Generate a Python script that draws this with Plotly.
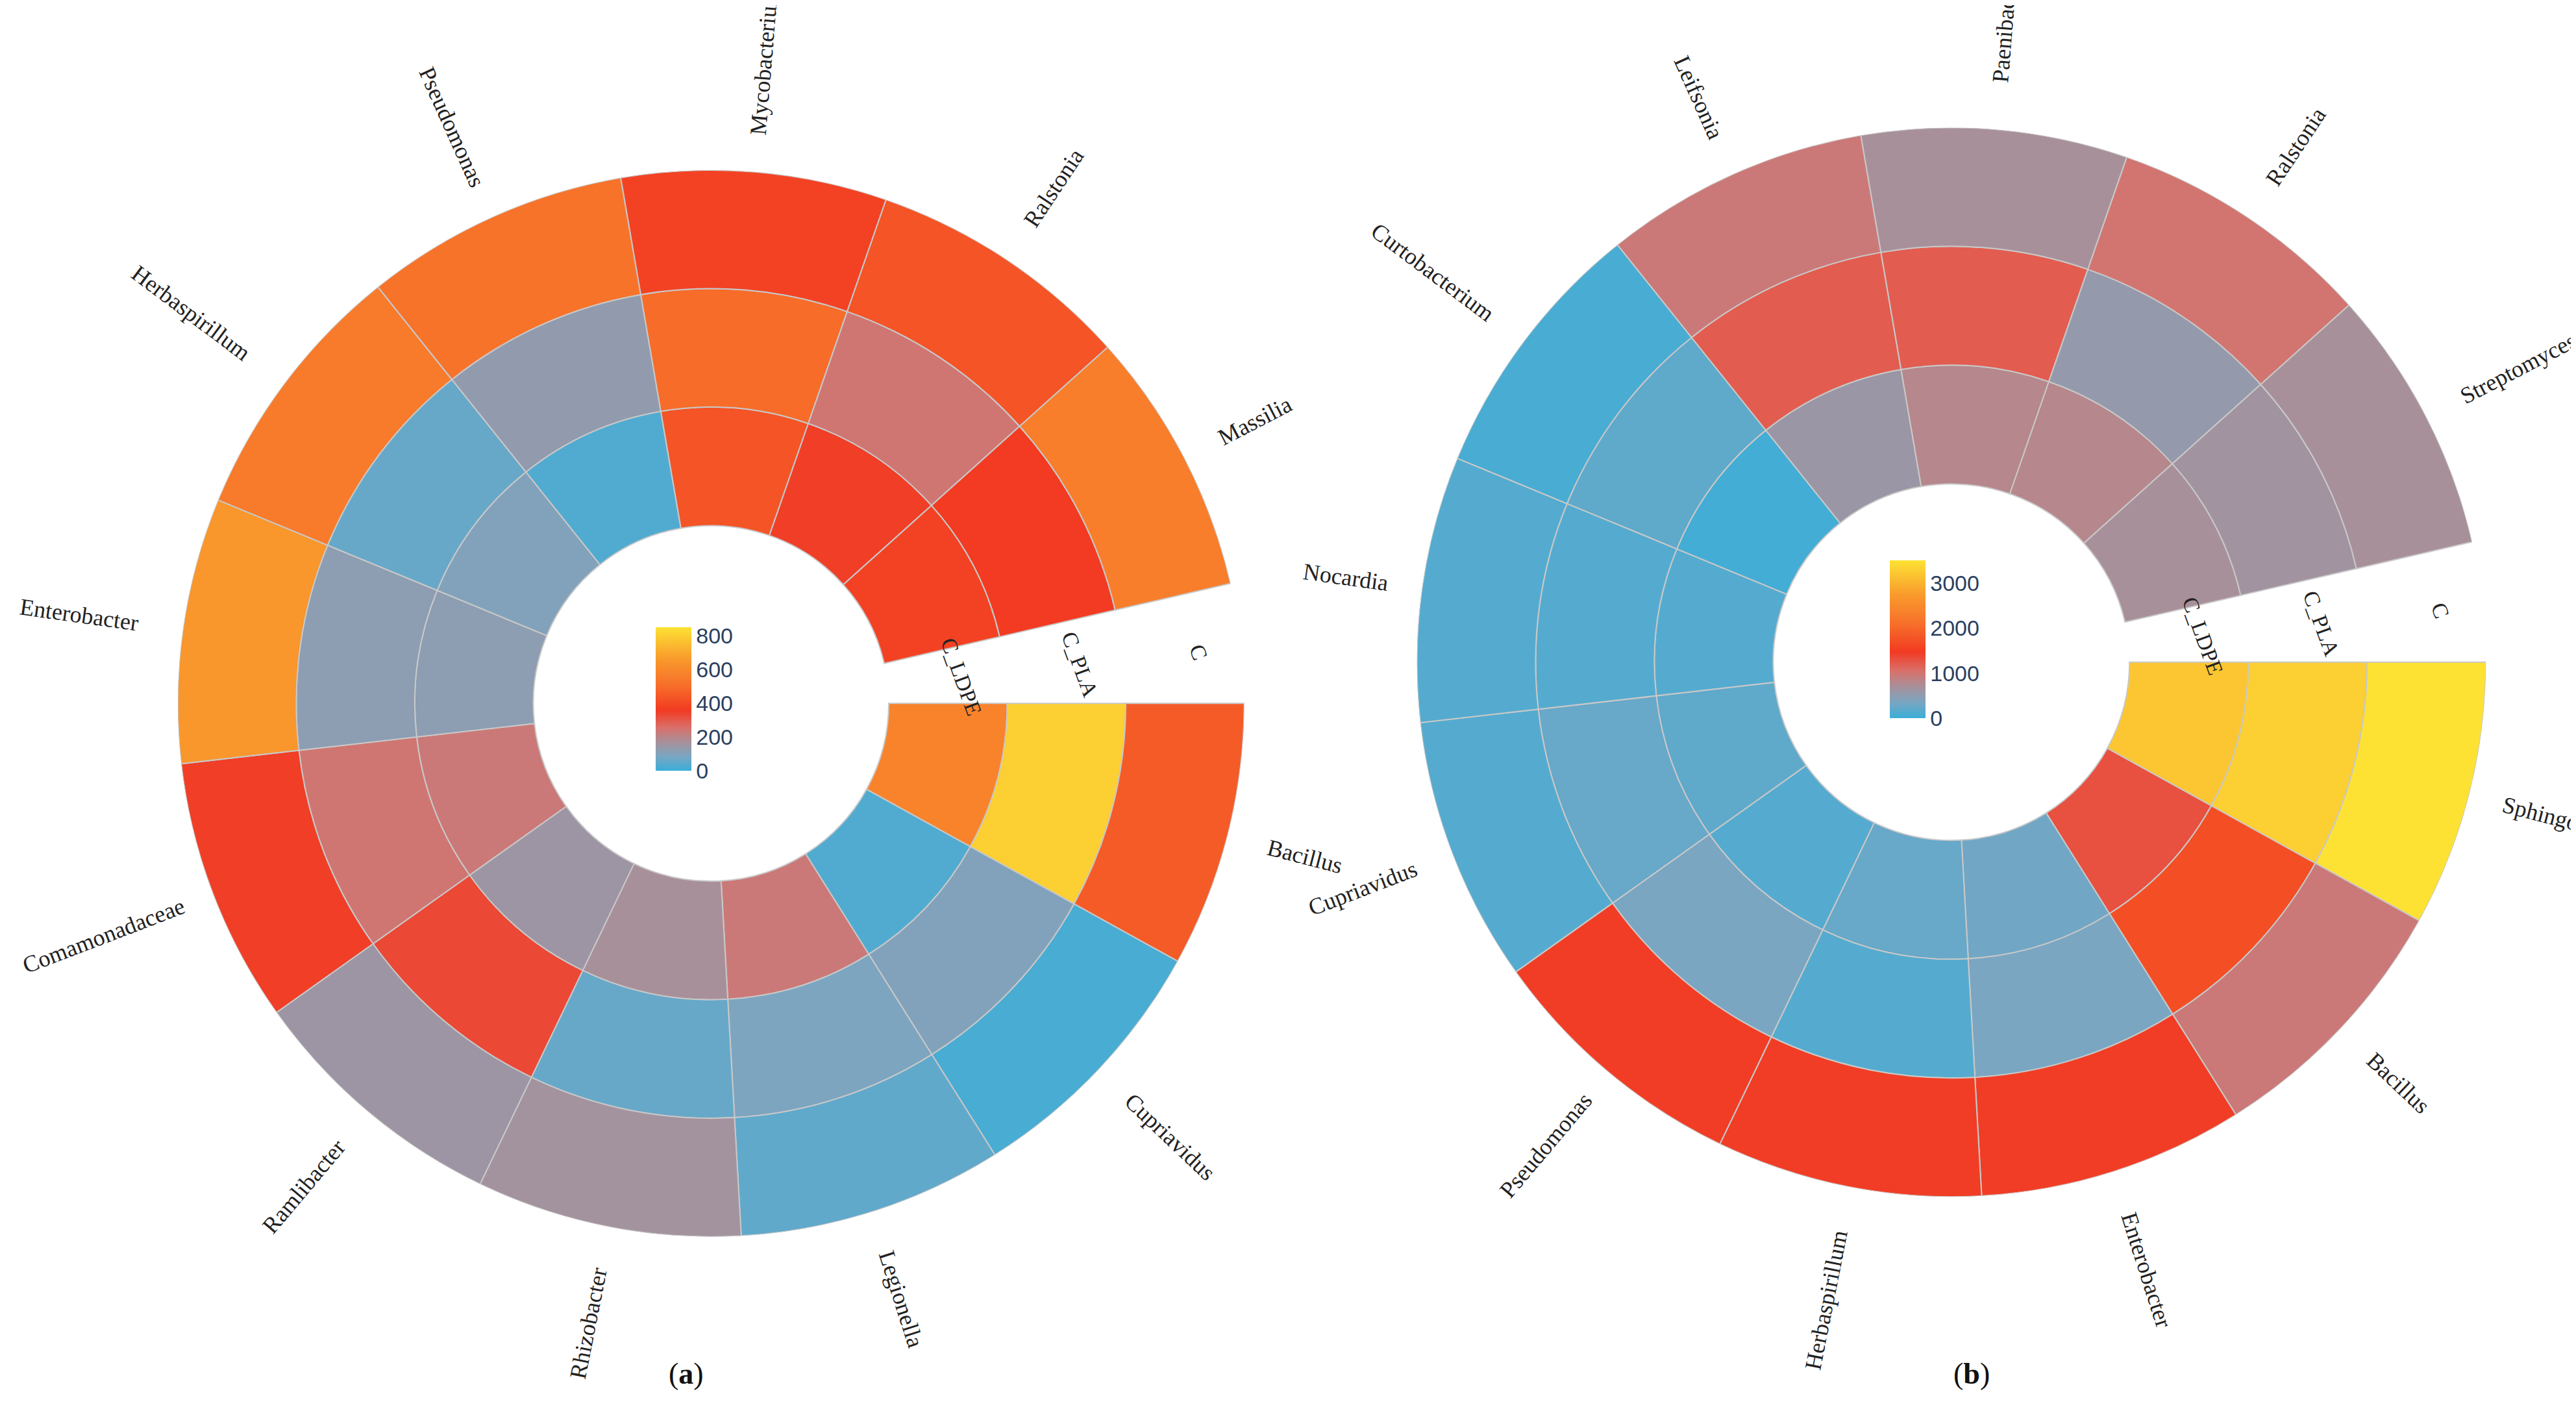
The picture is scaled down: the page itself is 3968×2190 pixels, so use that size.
import plotly.graph_objects as go
import math

W, H = 3968, 2190

genera_a = ["Bacillus", "Cupriavidus", "Legionella", "Rhizobacter", "Ramlibacter", "Comamonadaceae",
            "Enterobacter", "Herbaspirillum", "Pseudomonas", "Mycobacterium", "Ralstonia", "Massilia"]
a_ldpe = [580, 30, 230, 170, 150, 230, 120, 100, 30, 430, 350, 380]
a_pla = [800, 100, 90, 60, 330, 240, 120, 60, 130, 500, 240, 360]
a_c = [450, 20, 50, 160, 150, 350, 650, 550, 520, 380, 430, 560]

genera_b = ["Sphingomonas", "Bacillus", "Enterobacter", "Herbaspirillum", "Pseudomonas", "Cupriavidus",
            "Nocardia", "Curtobacterium", "Leifsonia", "Paenibacillus", "Ralstonia", "Streptomyces"]
b_ldpe = [3200, 1300, 300, 250, 150, 200, 150, 50, 600, 800, 800, 700]
b_pla = [3300, 1700, 350, 150, 350, 250, 150, 200, 1200, 1200, 550, 650]
b_c = [3500, 950, 1450, 1450, 1450, 150, 150, 80, 950, 700, 1000, 700]

ring_names = ["C_LDPE", "C_PLA", "C"]

cs = [[0, "#3aaed8"], [0.1, "#7aa6c2"], [0.2, "#a8909a"], [0.3, "#d9706a"],
      [0.42, "#f23a22"], [0.6, "#f7702a"], [0.78, "#f99a2c"], [1, "#fde234"]]

SW = 347 / 12
thetas = [SW / 2 + SW * i for i in range(12)]

fig = go.Figure()
panels = [
    ("polar", "coloraxis", genera_a, [a_ldpe, a_pla, a_c], (0.274, 0.509), 827),
    ("polar2", "coloraxis2", genera_b, [b_ldpe, b_pla, b_c], (0.756, 0.538), 827),
]
for pol, cax, gen, rings, (cx, cy), R in panels:
    for k, vals in enumerate(rings):
        fig.add_trace(go.Barpolar(
            r=[1] * 12, base=[1.5 + k] * 12, theta=thetas, width=[SW] * 12,
            marker=dict(color=vals, coloraxis=cax, line=dict(color="#c8c8c8", width=2)),
            subplot=pol, hovertext=gen, showlegend=False))
    for i, g in enumerate(gen):
        t = thetas[i]
        rp = R * 1.05 + len(g) * 9.5
        x = cx + rp * math.cos(math.radians(-t)) / W
        y = cy + rp * math.sin(math.radians(-t)) / H
        ta = t if math.cos(math.radians(t)) >= 0 else t - 180
        if ta > 180:
            ta -= 360
        fig.add_annotation(x=x, y=y, xref="paper", yref="paper", text=g, showarrow=False,
                           xanchor="center", yanchor="middle",
                           textangle=ta, font=dict(size=36, color="#222"))
    for k, nm in enumerate(ring_names):
        t = -6
        rp = R * (2.0 + k) / 4.5 + 20
        x = cx + rp * math.cos(math.radians(-t)) / W
        y = cy + rp * math.sin(math.radians(-t)) / H
        fig.add_annotation(x=x, y=y, xref="paper", yref="paper", text=nm, showarrow=False,
                           xanchor="center", yanchor="middle",
                           textangle=70, font=dict(size=34, color="#222"))

polar_common = dict(
    radialaxis=dict(range=[0, 4.5], visible=False),
    angularaxis=dict(visible=False, direction="clockwise", rotation=0),
    bgcolor="white", hole=0)

fig.update_layout(
    width=W, height=H, paper_bgcolor="white", plot_bgcolor="white",
    margin=dict(l=0, r=0, t=0, b=0),
    font=dict(family="Liberation Serif"),
    polar=dict(domain=dict(x=[0.067, 0.481], y=[0.133, 0.885]), **polar_common),
    polar2=dict(domain=dict(x=[0.548, 0.963], y=[0.162, 0.914]), **polar_common),
    coloraxis=dict(colorscale=cs, cmin=0, cmax=850,
                   colorbar=dict(x=0.25, xanchor="left", y=0.457, yanchor="bottom", len=0.11,
                                 thickness=55, outlinewidth=0, tickvals=[0, 200, 400, 600, 800],
                                 tickfont=dict(size=34, family="Liberation Sans"))),
    coloraxis2=dict(colorscale=cs, cmin=0, cmax=3500,
                    colorbar=dict(x=0.729, xanchor="left", y=0.494, yanchor="bottom", len=0.12,
                                  thickness=55, outlinewidth=0, tickvals=[0, 1000, 2000, 3000],
                                  tickfont=dict(size=34, family="Liberation Sans"))),
)
fig.add_annotation(x=0.257, y=0.025, xref="paper", yref="paper", text="(<b>a</b>)", showarrow=False,
                   font=dict(size=46, color="#111"))
fig.add_annotation(x=0.771, y=0.025, xref="paper", yref="paper", text="(<b>b</b>)", showarrow=False,
                   font=dict(size=46, color="#111"))

fig.write_html("out.html")
